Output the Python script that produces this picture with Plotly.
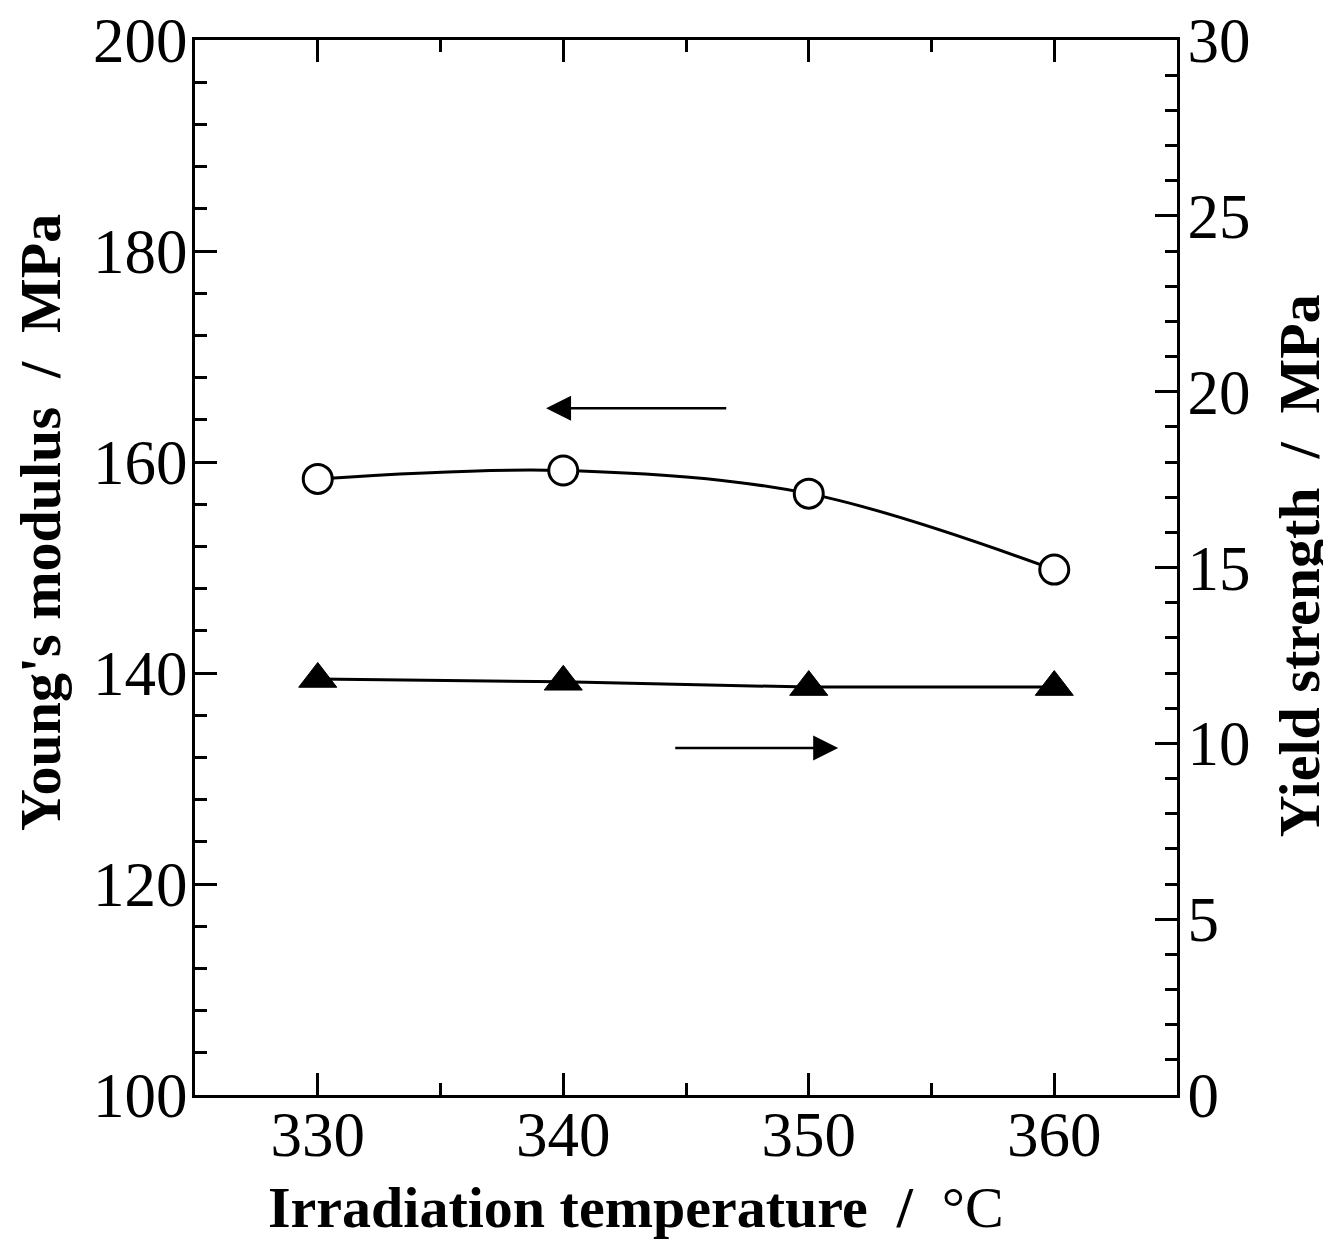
import plotly.graph_objects as go

# irradiation temperature (deg C)
temps = [330, 340, 350, 360]
youngs_modulus = [158.4, 159.2, 157.0, 149.8]   # MPa, left axis
yield_strength = [11.83, 11.75, 11.6, 11.6]     # MPa, right axis

serif = 'Liberation Serif, Times New Roman, serif'
nb = '\u00a0'

fig = go.Figure()

fig.add_trace(go.Scatter(
    x=temps, y=youngs_modulus,
    mode='lines+markers',
    line=dict(color='black', width=3, shape='spline', smoothing=1.0),
    marker=dict(symbol='circle', size=29, color='white',
                line=dict(color='black', width=3)),
    yaxis='y', showlegend=False
))

fig.add_trace(go.Scatter(
    x=temps, y=yield_strength,
    mode='lines+markers',
    line=dict(color='black', width=3, shape='spline', smoothing=0.6),
    marker=dict(symbol='triangle-up', size=33, color='black',
                line=dict(color='black', width=1)),
    yaxis='y2', showlegend=False
))

axis_common = dict(
    showline=True, linecolor='black', linewidth=3,
    ticks='inside', ticklen=22, tickwidth=2.5, tickcolor='black',
    showgrid=False, zeroline=False, automargin=False,
    ticklabeloverflow='allow',
    tickfont=dict(family=serif, size=63, color='black'),
)

# page body adds an 8px offset, margins compensate for it
fig.update_layout(
    width=1331, height=1242,
    margin=dict(l=187, r=162, t=32, b=155),
    plot_bgcolor='white', paper_bgcolor='white',
    xaxis=dict(
        range=[325, 365], tickvals=[330, 340, 350, 360], mirror='ticks',
        ticklabelstandoff=-18,
        minor=dict(dtick=5, tick0=325, ticks='inside', ticklen=12,
                   tickwidth=2.5, tickcolor='black'),
        **axis_common
    ),
    yaxis=dict(
        range=[100, 200], dtick=20, ticklabelstandoff=-8,
        minor=dict(dtick=4, ticks='inside', ticklen=12,
                   tickwidth=2.5, tickcolor='black'),
        **axis_common
    ),
    yaxis2=dict(
        range=[0, 30], dtick=5, overlaying='y', side='right',
        ticklabelstandoff=-5,
        minor=dict(dtick=1, ticks='inside', ticklen=12,
                   tickwidth=2.5, tickcolor='black'),
        **axis_common
    ),
)

title_font = dict(family=serif, size=58, color='black')

fig.add_annotation(
    text=f'<b>Irradiation temperature{nb} /{nb}{nb}</b>°C',
    x=0.449, y=-0.107, xref='paper', yref='paper',
    xanchor='center', yanchor='middle', showarrow=False, font=title_font)
fig.add_annotation(
    text=f"<b>Young's modulus{nb} /{nb} MPa</b>",
    x=-0.158, y=0.543, xref='paper', yref='paper', textangle=-90,
    xanchor='center', yanchor='middle', showarrow=False, font=title_font)
fig.add_annotation(
    text=f'<b>Yield strength{nb} /{nb} MPa</b>',
    x=1.125, y=0.502, xref='paper', yref='paper', textangle=-90,
    xanchor='center', yanchor='middle', showarrow=False, font=title_font)

# direction arrows pointing to the relevant axis
fig.add_annotation(x=339.3, y=165.1, ax=346.7, ay=165.1,
                   xref='x', yref='y', axref='x', ayref='y',
                   showarrow=True, arrowhead=2, arrowsize=2,
                   arrowwidth=2.5, arrowcolor='black', text='')
fig.add_annotation(x=351.2, y=132.9, ax=344.5, ay=132.9,
                   xref='x', yref='y', axref='x', ayref='y',
                   showarrow=True, arrowhead=2, arrowsize=2,
                   arrowwidth=2.5, arrowcolor='black', text='')

fig.write_html('out.html')
